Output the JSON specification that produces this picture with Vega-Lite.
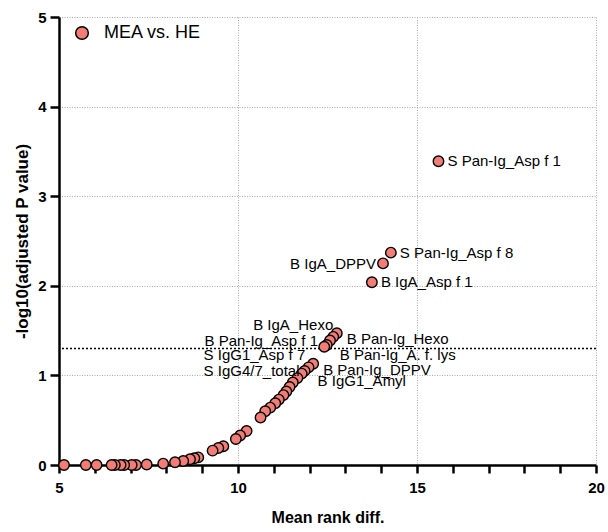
{
  "$schema": "https://vega.github.io/schema/vega-lite/v6.json",
  "width": 537,
  "height": 448,
  "autosize": {"type": "none"},
  "padding": {"left": 59, "top": 17, "right": 12, "bottom": 67},
  "config": {"view": {"stroke": null}, "font": "Liberation Sans"},
  "data": {
    "values": [
      {"x": 15.60, "y": 3.39, "label": "S Pan-Ig_Asp f 1", "group": "MEA vs. HE"},
      {"x": 14.27, "y": 2.37, "label": "S Pan-Ig_Asp f 8", "group": "MEA vs. HE"},
      {"x": 14.05, "y": 2.25, "label": "B IgA_DPPV", "group": "MEA vs. HE"},
      {"x": 13.74, "y": 2.04, "label": "B IgA_Asp f 1", "group": "MEA vs. HE"},
      {"x": 12.76, "y": 1.47, "label": "B Pan-Ig_Hexo", "group": "MEA vs. HE"},
      {"x": 12.66, "y": 1.43, "label": "B IgA_Hexo", "group": "MEA vs. HE"},
      {"x": 12.57, "y": 1.39, "label": "B Pan-Ig_Asp f 1", "group": "MEA vs. HE"},
      {"x": 12.48, "y": 1.34, "label": "B Pan-Ig_A. f. lys", "group": "MEA vs. HE"},
      {"x": 12.41, "y": 1.32, "label": "S IgG1_Asp f 7", "group": "MEA vs. HE"},
      {"x": 12.10, "y": 1.13, "label": "B Pan-Ig_DPPV", "group": "MEA vs. HE"},
      {"x": 11.97, "y": 1.09, "label": "S IgG4/7_total", "group": "MEA vs. HE"},
      {"x": 11.86, "y": 1.05, "label": "B IgG1_Amyl", "group": "MEA vs. HE"},
      {"x": 11.78, "y": 1.02, "label": "", "group": "MEA vs. HE"},
      {"x": 11.66, "y": 0.97, "label": "", "group": "MEA vs. HE"},
      {"x": 11.53, "y": 0.92, "label": "", "group": "MEA vs. HE"},
      {"x": 11.44, "y": 0.87, "label": "", "group": "MEA vs. HE"},
      {"x": 11.35, "y": 0.82, "label": "", "group": "MEA vs. HE"},
      {"x": 11.27, "y": 0.78, "label": "", "group": "MEA vs. HE"},
      {"x": 11.14, "y": 0.73, "label": "", "group": "MEA vs. HE"},
      {"x": 11.04, "y": 0.69, "label": "", "group": "MEA vs. HE"},
      {"x": 10.90, "y": 0.64, "label": "", "group": "MEA vs. HE"},
      {"x": 10.76, "y": 0.60, "label": "", "group": "MEA vs. HE"},
      {"x": 10.63, "y": 0.53, "label": "", "group": "MEA vs. HE"},
      {"x": 10.24, "y": 0.38, "label": "", "group": "MEA vs. HE"},
      {"x": 10.06, "y": 0.33, "label": "", "group": "MEA vs. HE"},
      {"x": 9.94, "y": 0.29, "label": "", "group": "MEA vs. HE"},
      {"x": 9.59, "y": 0.21, "label": "", "group": "MEA vs. HE"},
      {"x": 9.45, "y": 0.19, "label": "", "group": "MEA vs. HE"},
      {"x": 9.29, "y": 0.16, "label": "", "group": "MEA vs. HE"},
      {"x": 8.89, "y": 0.085, "label": "", "group": "MEA vs. HE"},
      {"x": 8.78, "y": 0.075, "label": "", "group": "MEA vs. HE"},
      {"x": 8.66, "y": 0.065, "label": "", "group": "MEA vs. HE"},
      {"x": 8.47, "y": 0.045, "label": "", "group": "MEA vs. HE"},
      {"x": 8.24, "y": 0.03, "label": "", "group": "MEA vs. HE"},
      {"x": 7.91, "y": 0.015, "label": "", "group": "MEA vs. HE"},
      {"x": 7.45, "y": 0.005, "label": "", "group": "MEA vs. HE"},
      {"x": 7.15, "y": 0, "label": "", "group": "MEA vs. HE"},
      {"x": 7.03, "y": 0, "label": "", "group": "MEA vs. HE"},
      {"x": 6.82, "y": 0, "label": "", "group": "MEA vs. HE"},
      {"x": 6.72, "y": 0, "label": "", "group": "MEA vs. HE"},
      {"x": 6.56, "y": 0, "label": "", "group": "MEA vs. HE"},
      {"x": 6.47, "y": 0, "label": "", "group": "MEA vs. HE"},
      {"x": 6.05, "y": 0, "label": "", "group": "MEA vs. HE"},
      {"x": 5.75, "y": 0, "label": "", "group": "MEA vs. HE"},
      {"x": 5.14, "y": 0, "label": "", "group": "MEA vs. HE"}
    ]
  },
  "encoding": {
    "x": {
      "field": "x",
      "type": "quantitative",
      "scale": {"domain": [5, 20], "nice": false, "zero": false},
      "axis": {
        "values": [5, 6, 7, 8, 9, 10, 11, 12, 13, 14, 15, 16, 17, 18, 19, 20],
        "labelExpr": "datum.value % 5 === 0 ? datum.label : ''",
        "grid": true,
        "gridOpacity": {"condition": {"test": "datum.value % 5 === 0 && datum.value > 5", "value": 1}, "value": 0},
        "gridColor": "#a8a8a8",
        "gridDash": [1, 1.5],
        "gridWidth": 1,
        "domainColor": "black",
        "domainWidth": 2.5,
        "tickColor": "black",
        "tickWidth": 2.5,
        "tickSize": 8,
        "labelFont": "Liberation Sans",
        "labelFontWeight": "bold",
        "labelFontSize": 15,
        "labelColor": "black",
        "labelPadding": 7,
        "labelFlush": false,
        "title": "Mean rank diff.",
        "titleFont": "Liberation Sans",
        "titleFontSize": 16,
        "titleFontWeight": "bold",
        "titleColor": "black",
        "titlePadding": 14
      }
    },
    "y": {
      "field": "y",
      "type": "quantitative",
      "scale": {"domain": [0, 5], "nice": false},
      "axis": {
        "values": [0, 1, 2, 3, 4, 5],
        "grid": true,
        "gridColor": "#a8a8a8",
        "gridDash": [1, 1.5],
        "gridWidth": 1,
        "domainColor": "black",
        "domainWidth": 2.5,
        "tickColor": "black",
        "tickWidth": 2.5,
        "tickSize": 9,
        "labelFont": "Liberation Sans",
        "labelFontWeight": "bold",
        "labelFontSize": 15,
        "labelColor": "black",
        "labelPadding": 4,
        "title": "-log10(adjusted P value)",
        "titleFont": "Liberation Sans",
        "titleFontSize": 17,
        "titleFontWeight": "bold",
        "titleColor": "black",
        "titlePadding": 6
      }
    }
  },
  "layer": [
    {
      "data": {"values": [{"threshold": 1.3}]},
      "mark": {"type": "rule", "color": "black", "strokeDash": [2, 2], "strokeWidth": 1.5},
      "encoding": {"y": {"field": "threshold", "type": "quantitative"}, "x": null}
    },
    {
      "mark": {"type": "circle", "size": 110, "opacity": 1, "stroke": "black", "strokeWidth": 1.4},
      "encoding": {
        "color": {
          "field": "group",
          "type": "nominal",
          "scale": {"range": ["#F27D77"]},
          "legend": {
            "title": null,
            "orient": "none",
            "legendX": 14,
            "legendY": 7,
            "symbolType": "circle",
            "symbolSize": 160,
            "symbolStrokeColor": "black",
            "symbolStrokeWidth": 1.5,
            "symbolFillColor": "#F27D77",
            "labelFont": "Liberation Sans",
            "labelFontSize": 18,
            "labelColor": "black",
            "labelOffset": 13
          }
        }
      }
    },
    {
      "transform": [{"filter": {"field": "label", "oneOf": ["S Pan-Ig_Asp f 1", "S Pan-Ig_Asp f 8", "B IgA_Asp f 1"]}}],
      "mark": {"type": "text", "align": "left", "baseline": "middle", "dx": 9, "dy": 0, "fontSize": 15, "font": "Liberation Sans", "color": "black"},
      "encoding": {"text": {"field": "label"}}
    },
    {
      "transform": [{"filter": {"field": "label", "oneOf": ["B Pan-Ig_Hexo", "B Pan-Ig_DPPV"]}}],
      "mark": {"type": "text", "align": "left", "baseline": "middle", "dx": 10, "dy": 6, "fontSize": 15, "font": "Liberation Sans", "color": "black"},
      "encoding": {"text": {"field": "label"}}
    },
    {
      "transform": [{"filter": {"field": "label", "oneOf": ["B Pan-Ig_A. f. lys", "B IgG1_Amyl"]}}],
      "mark": {"type": "text", "align": "left", "baseline": "middle", "dx": 13, "dy": 10, "fontSize": 15, "font": "Liberation Sans", "color": "black"},
      "encoding": {"text": {"field": "label"}}
    },
    {
      "transform": [{"filter": {"field": "label", "oneOf": ["B IgA_DPPV"]}}],
      "mark": {"type": "text", "align": "right", "baseline": "middle", "dx": -7, "dy": 1, "fontSize": 15, "font": "Liberation Sans", "color": "black"},
      "encoding": {"text": {"field": "label"}}
    },
    {
      "transform": [{"filter": {"field": "label", "oneOf": ["S IgG4/7_total"]}}],
      "mark": {"type": "text", "align": "right", "baseline": "middle", "dx": -9, "dy": 4, "fontSize": 15, "font": "Liberation Sans", "color": "black"},
      "encoding": {"text": {"field": "label"}}
    },
    {
      "transform": [{"filter": {"field": "label", "oneOf": ["B Pan-Ig_Asp f 1"]}}],
      "mark": {"type": "text", "align": "right", "baseline": "middle", "dx": -12, "dy": 1, "fontSize": 15, "font": "Liberation Sans", "color": "black"},
      "encoding": {"text": {"field": "label"}}
    },
    {
      "transform": [{"filter": {"field": "label", "oneOf": ["S IgG1_Asp f 7"]}}],
      "mark": {"type": "text", "align": "right", "baseline": "middle", "dx": -19, "dy": 8, "fontSize": 15, "font": "Liberation Sans", "color": "black"},
      "encoding": {"text": {"field": "label"}}
    },
    {
      "transform": [{"filter": {"field": "label", "oneOf": ["B IgA_Hexo"]}}],
      "mark": {"type": "text", "align": "right", "baseline": "middle", "dx": 0, "dy": -12, "fontSize": 15, "font": "Liberation Sans", "color": "black"},
      "encoding": {"text": {"field": "label"}}
    }
  ]
}
